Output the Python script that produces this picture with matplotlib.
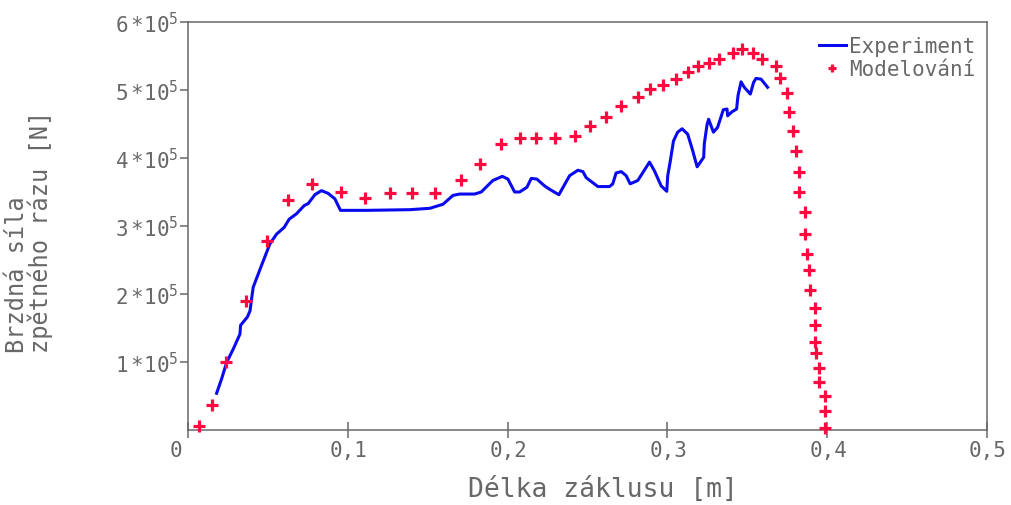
import matplotlib
matplotlib.use("Agg")
import matplotlib.pyplot as plt
import matplotlib.transforms as mtransforms
import numpy as np

# Experiment (measured) - recoil length [m] vs braking force [x1e5 N]
exp_x = [0.0179, 0.0210, 0.0242, 0.0283, 0.0325, 0.0329, 0.0371, 0.0388, 0.0398, 0.0408,
         0.0460, 0.0513, 0.0554, 0.0602, 0.0633, 0.0679, 0.0727, 0.0752, 0.0794, 0.0835,
         0.0877, 0.0919, 0.0954, 0.1117, 0.1388, 0.1513, 0.1596, 0.1658, 0.1700, 0.1794,
         0.1835, 0.1908, 0.1967, 0.2002, 0.2044, 0.2075, 0.2121, 0.2148, 0.2183, 0.2231,
         0.2263, 0.2321, 0.2388, 0.2440, 0.2471, 0.2492, 0.2565, 0.2638, 0.2658, 0.2679,
         0.2711, 0.2742, 0.2767, 0.2815, 0.2888, 0.2919, 0.2961, 0.2996, 0.3002, 0.3017,
         0.3038, 0.3064, 0.3092, 0.3127, 0.3158, 0.3186, 0.3227, 0.3231, 0.3248, 0.3258,
         0.3288, 0.3314, 0.3350, 0.3373, 0.3377, 0.3404, 0.3433, 0.3442, 0.3461, 0.3481,
         0.3519, 0.3539, 0.3554, 0.3586, 0.3627]
exp_y = [0.54, 0.75, 0.995, 1.19, 1.41, 1.54, 1.66, 1.75, 1.93, 2.10,
         2.42, 2.74, 2.88, 2.98, 3.10, 3.18, 3.30, 3.33, 3.46, 3.52,
         3.48, 3.40, 3.23, 3.23, 3.24, 3.26, 3.32, 3.45, 3.47, 3.47,
         3.50, 3.67, 3.73, 3.69, 3.50, 3.50, 3.57, 3.70, 3.69, 3.59,
         3.54, 3.46, 3.74, 3.82, 3.80, 3.71, 3.58, 3.58, 3.62, 3.78,
         3.80, 3.74, 3.62, 3.67, 3.94, 3.81, 3.59, 3.51, 3.74, 3.94,
         4.25, 4.38, 4.43, 4.35, 4.11, 3.87, 4.01, 4.21, 4.49, 4.57,
         4.38, 4.45, 4.71, 4.72, 4.62, 4.68, 4.72, 4.92, 5.12, 5.04,
         4.94, 5.11, 5.17, 5.16, 5.04]

# Model (simulation)
mod_x = [0.0071, 0.0152, 0.0238, 0.0363, 0.0496, 0.0623, 0.0779, 0.0958, 0.1106, 0.1267,
         0.1402, 0.1544, 0.1706, 0.1825, 0.1956, 0.2075, 0.2175, 0.2294, 0.2421, 0.2515,
         0.2613, 0.2708, 0.2815, 0.2888, 0.2971, 0.3056, 0.3127, 0.3192, 0.3261, 0.3325,
         0.3411, 0.3467, 0.3536, 0.3592, 0.3679, 0.3704, 0.3746, 0.3764, 0.3783, 0.3804,
         0.3825, 0.3825, 0.3863, 0.3863, 0.3873, 0.3888, 0.3894, 0.3925, 0.3925, 0.3925,
         0.3933, 0.3946, 0.3946, 0.3988, 0.3988, 0.3988]
mod_y = [0.063, 0.368, 0.996, 1.89, 2.78, 3.38, 3.62, 3.50, 3.41, 3.49,
         3.49, 3.48, 3.68, 3.91, 4.20, 4.29, 4.29, 4.29, 4.33, 4.47,
         4.61, 4.76, 4.90, 5.01, 5.07, 5.16, 5.27, 5.35, 5.39, 5.46,
         5.54, 5.60, 5.55, 5.45, 5.35, 5.17, 4.95, 4.68, 4.40, 4.11,
         3.80, 3.50, 3.20, 2.88, 2.59, 2.35, 2.06, 1.79, 1.54, 1.30,
         1.13, 0.91, 0.70, 0.50, 0.28, 0.03]

x_ticks = [0, 0.1, 0.2, 0.3, 0.4, 0.5]
x_ticklabels = ["0", "0,1", "0,2", "0,3", "0,4", "0,5"]
y_ticks = [1e5, 2e5, 3e5, 4e5, 5e5, 6e5]
y_ticklabels = [r"$\mathregular{%d\,{*}10^5}$" % k for k in range(1, 7)]

gray = "#686868"
plt.rcParams["font.family"] = ["DejaVu Sans Mono"]
plt.rcParams["text.color"] = gray

fig = plt.figure(figsize=(10.11, 5.06), dpi=100)
ax = fig.add_axes([188/1011, 75/506, 799/1011, 408/506])

ax.plot(exp_x, np.array(exp_y)*1e5, color="#0a0af0", lw=2.2, label="Experiment")
ax.plot(mod_x, np.array(mod_y)*1e5, ls="none", marker="+", ms=8, mew=2.3,
        color="#ff0a40", label="Modelování", clip_on=False, zorder=3)

ax.set_xlim(0, 0.5)
ax.set_ylim(0, 6e5)

for s in ax.spines.values():
    s.set_color(gray)
    s.set_linewidth(1.1)

ax.set_xticks(x_ticks)
ax.set_xticklabels(x_ticklabels, fontsize=15, color=gray)
ax.set_yticks(y_ticks)
ax.set_yticklabels(y_ticklabels, fontsize=15, color=gray)
ax.tick_params(axis="x", direction="inout", length=12, width=1.1, color=gray, pad=1)
ax.tick_params(axis="y", direction="out", length=6, width=1.1, color=gray, pad=1)

# x tick labels start a bit left of the tick (like in the original)
off = mtransforms.ScaledTranslation(-18/100, 0, fig.dpi_scale_trans)
for lab in ax.get_xticklabels():
    lab.set_ha("left")
    lab.set_transform(lab.get_transform() + off)

ax.set_xlabel("Délka záklusu [m]", fontsize=19, color=gray, va="baseline")
ax.xaxis.set_label_coords((603-188)/799, (431-497)/408)
ax.set_ylabel("Brzdná síla\nzpětného rázu [N]", fontsize=17, color=gray,
              ha="center", va="center", multialignment="left", linespacing=0.9)
ax.yaxis.set_label_coords((29-188)/799, (431-232)/408)

leg = ax.legend(loc="upper right", bbox_to_anchor=(0.985, 0.965), frameon=False,
                fontsize=15, handlelength=1.3, handletextpad=0.15, labelspacing=0.15,
                borderpad=0, borderaxespad=0, numpoints=1, markerscale=0.7)
for t in leg.get_texts():
    t.set_color(gray)

plt.savefig("out.png", dpi=100)
